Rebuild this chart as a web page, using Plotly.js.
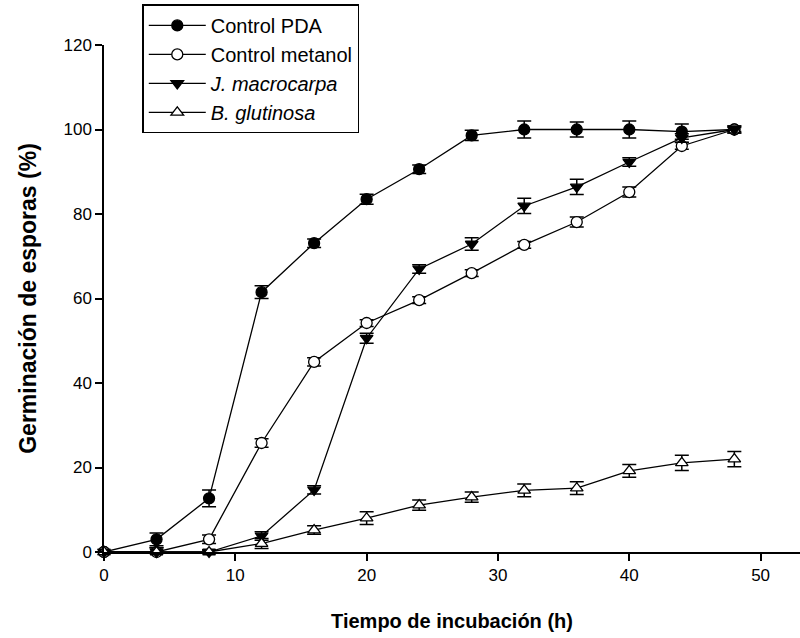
<!DOCTYPE html>
<html>
<head>
<meta charset="utf-8">
<script src="https://cdn.plot.ly/plotly-3.0.1.min.js"></script>
<style>html,body{margin:0;padding:0;background:#fff;}#chart{width:800px;height:638px;}</style>
</head>
<body>
<div id="chart"></div>
<script>
var hours = [0, 4, 8, 12, 16, 20, 24, 28, 32, 36, 40, 44, 48];
var controlPDA = [0, 3, 12.7, 61.5, 73.1, 83.5, 90.6, 98.6, 100, 100, 100, 99.5, 100];
var controlPDAErr = [0.3, 1.5, 2, 1.5, 1, 1.2, 1, 1.2, 2, 1.8, 2, 1.8, 0.8];
var controlMetanol = [0, 0, 3, 25.8, 45, 54.2, 59.6, 66, 72.7, 78.1, 85.2, 96.1, 100];
var controlMetanolErr = [0, 0, 1, 1, 1, 0.8, 0.8, 0.8, 0.8, 1.2, 1.2, 0.8, 0.5];
var jMacrocarpa = [0, 0, 0, 3.8, 14.7, 50.6, 67, 72.9, 81.9, 86.4, 92.3, 98, 100];
var jMacrocarpaErr = [0, 1, 0.5, 1, 1, 1.2, 1, 1.5, 1.8, 1.8, 1, 1, 0.8];
var bGlutinosa = [0, 0, 0, 2, 5.2, 8, 11.1, 13, 14.6, 15.1, 19.2, 21.1, 22];
var bGlutinosaErr = [0, 1, 0.5, 1.2, 1, 1.5, 1.2, 1.2, 1.5, 1.5, 1.5, 1.8, 1.8];
var names = ["Control PDA", "Control metanol", "<i>J. macrocarpa</i>", "<i>B. glutinosa</i>"];

function tr(y, err, name, symbol, fill) {
  return {
    x: hours, y: y, name: name, type: 'scatter', mode: 'lines+markers',
    cliponaxis: false,
    line: {color: '#000', width: 1.3},
    marker: {symbol: symbol, size: 11, color: fill, line: {color: '#000', width: 1.3}},
    error_y: {type: 'data', array: err, visible: true, color: '#000', thickness: 1.5, width: 7}
  };
}
var data = [
  tr(controlPDA, controlPDAErr, names[0], 'circle', '#000'),
  tr(controlMetanol, controlMetanolErr, names[1], 'circle', '#fff'),
  tr(jMacrocarpa, jMacrocarpaErr, names[2], 'triangle-down', '#000'),
  tr(bGlutinosa, bGlutinosaErr, names[3], 'triangle-up', '#fff')
];
var layout = {
  width: 800, height: 638,
  margin: {l: 104, r: 0, t: 45, b: 86},
  paper_bgcolor: '#fff', plot_bgcolor: '#fff',
  font: {family: 'Arial, "Liberation Sans", sans-serif', size: 17, color: '#000'},
  showlegend: true,
  legend: {x: 0.055, y: 1.08, xanchor: 'left', yanchor: 'top', bgcolor: '#fff',
           bordercolor: '#000', borderwidth: 1.5, font: {size: 20}, itemwidth: 57},
  xaxis: {range: [0, 53], tickvals: [0, 10, 20, 30, 40, 50], showgrid: false, zeroline: false,
          showline: true, linecolor: '#000', linewidth: 1.5, ticks: 'outside', ticklen: 7,
          tickwidth: 1.5, tickcolor: '#000',
          title: {text: '<b>Tiempo de incubación (h)</b>', font: {size: 20}, standoff: 30}},
  yaxis: {range: [0, 120], tickvals: [0, 20, 40, 60, 80, 100, 120], showgrid: false, zeroline: false,
          showline: true, linecolor: '#000', linewidth: 1.5, ticks: 'outside', ticklen: 7,
          tickwidth: 1.5, tickcolor: '#000',
          title: {text: '<b>Germinación de esporas (%)</b>', font: {size: 23}, standoff: 20}}
};
Plotly.newPlot('chart', data, layout, {displayModeBar: false});
</script>
</body>
</html>
